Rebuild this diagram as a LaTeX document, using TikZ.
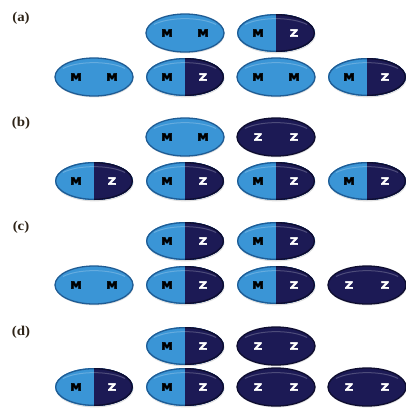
\documentclass[tikz,border=0pt]{standalone}
\usepackage{fontspec}
\setmainfont{Liberation Serif}
\newfontfamily\eggfont{DejaVu Sans}
\usetikzlibrary{shapes.geometric,shadows}
\definecolor{lblue}{HTML}{3A95D6}
\definecolor{dblue}{HTML}{1C1A55}
\definecolor{rimL}{HTML}{1F5C94}
\definecolor{rimD}{HTML}{0E0D30}
\definecolor{labcol}{HTML}{2E2418}
\newcommand\heavytext[1]{\special{pdf:literal direct 2 Tr 0.45 w}#1\special{pdf:literal direct 0 Tr}}
\tikzset{
  egg/.style={ellipse, minimum width=78pt, minimum height=38pt, inner sep=0pt,
     line width=1.3pt, drop shadow={opacity=0.25, shadow xshift=0.6pt, shadow yshift=-1.4pt}},
  eggmm/.style={egg, fill=lblue, draw=rimL},
  eggzz/.style={egg, fill=dblue, draw=rimD},
  eggmz/.style={egg, fill=lblue, draw=none,
     path picture={
       \draw[rimL, line width=2.6pt] (path picture bounding box.center) ellipse [x radius=39pt, y radius=19pt];
       \fill[dblue] (path picture bounding box.north) rectangle (path picture bounding box.south east);
       \begin{scope}
         \clip (path picture bounding box.north) rectangle (path picture bounding box.south east);
         \draw[rimD, line width=2.6pt] (path picture bounding box.center) ellipse [x radius=39pt, y radius=19pt];
       \end{scope}}},
  letter/.style={font=\eggfont\bfseries\fontsize{10}{10}\selectfont, inner sep=0pt, xscale=1.12},
  letM/.style={letter, text=black},
  letZ/.style={letter, text=white},
  panel/.style={font=\bfseries\fontsize{13.5}{14}\selectfont, text=labcol, inner sep=0pt, xscale=1.1}
}
\newcommand\egg[6]{%
  \node[egg#6] (#1) at (#2,#3) {};
  \node[let#4] (#1-l) at ([xshift=-18pt]#1.center) {\heavytext{#4}};
  \node[let#5] (#1-r) at ([xshift=18pt]#1.center) {\heavytext{#5}};
  \draw[white, opacity=0.22, line width=1pt] ([xshift=-31pt,yshift=8.5pt]#1.center) .. controls ([xshift=-16pt,yshift=16.3pt]#1.center) and ([xshift=16pt,yshift=16.3pt]#1.center) .. ([xshift=31pt,yshift=8.5pt]#1.center);
}
\begin{document}
\begin{tikzpicture}[x=1pt,y=-1pt]
\useasboundingbox (0,0) rectangle (406,408);
% (a)
\node[panel] (la) at (21,18) {(a)};
\egg{a1}{185}{33}{M}{M}{mm}
\egg{a2}{276}{33}{M}{Z}{mz}
\egg{a3}{94}{77}{M}{M}{mm}
\egg{a4}{185}{77}{M}{Z}{mz}
\egg{a5}{276}{77}{M}{M}{mm}
\egg{a6}{367}{77}{M}{Z}{mz}
% (b)
\node[panel] (lb) at (21,123) {(b)};
\egg{b1}{185}{137}{M}{M}{mm}
\egg{b2}{276}{137}{Z}{Z}{zz}
\egg{b3}{94}{181}{M}{Z}{mz}
\egg{b4}{185}{181}{M}{Z}{mz}
\egg{b5}{276}{181}{M}{Z}{mz}
\egg{b6}{367}{181}{M}{Z}{mz}
% (c)
\node[panel] (lc) at (21,227) {(c)};
\egg{c1}{185}{241}{M}{Z}{mz}
\egg{c2}{276}{241}{M}{Z}{mz}
\egg{c3}{94}{285}{M}{M}{mm}
\egg{c4}{185}{285}{M}{Z}{mz}
\egg{c5}{276}{285}{M}{Z}{mz}
\egg{c6}{367}{285}{Z}{Z}{zz}
% (d)
\node[panel] (ld) at (21,332) {(d)};
\egg{d1}{185}{346}{M}{Z}{mz}
\egg{d2}{276}{346}{Z}{Z}{zz}
\egg{d3}{94}{387}{M}{Z}{mz}
\egg{d4}{185}{387}{M}{Z}{mz}
\egg{d5}{276}{387}{Z}{Z}{zz}
\egg{d6}{367}{387}{Z}{Z}{zz}
\end{tikzpicture}
\end{document}
